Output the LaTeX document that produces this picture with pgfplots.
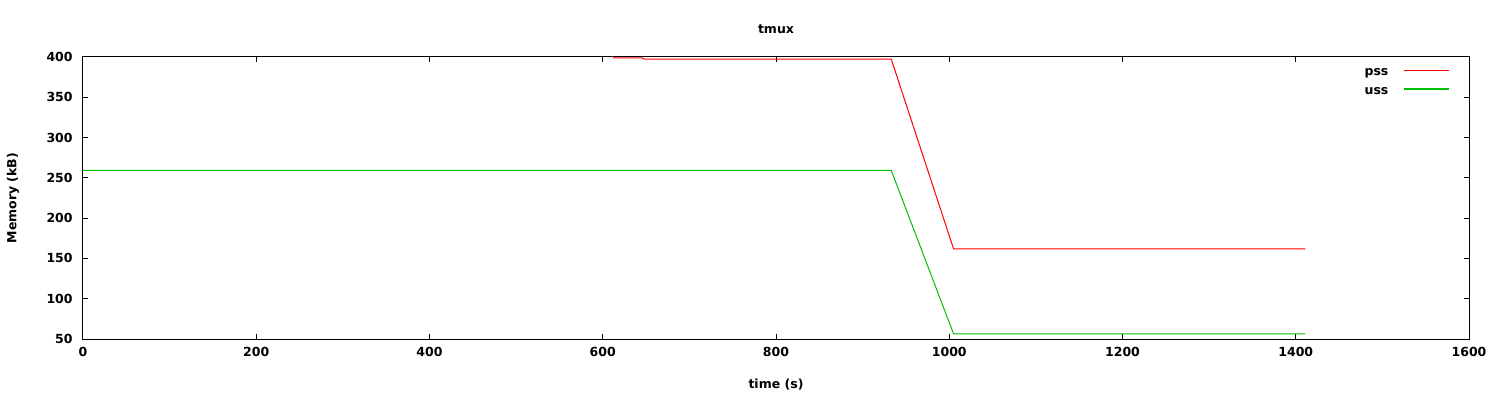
\documentclass[border=0pt]{standalone}
\usepackage{fontspec}
\setmainfont{DejaVu Sans}
\usepackage{pgfplots}
\pgfplotsset{compat=1.18}
\definecolor{gpred}{RGB}{255,0,0}
\definecolor{gpgreen}{RGB}{0,192,0}
\newcommand{\gpfont}{\fontsize{12.5bp}{15bp}\selectfont\bfseries}
\begin{document}
\gpfont
\begin{tikzpicture}
\begin{axis}[
  at={(0,0)}, anchor=south west,
  scale only axis, width=1386bp, height=282bp,
  xmin=0, xmax=1600, ymin=50, ymax=400,
  xtick={0,200,...,1600}, ytick={50,100,...,400},
  /pgf/number format/assume math mode=true,
  /pgf/number format/set thousands separator={},
  tick label style={font=\gpfont},
  major tick length=5bp,
  axis line style={line width=1bp},
  every tick/.style={black, line width=1bp},
  yticklabel style={anchor=east, xshift=-6bp},
  xticklabel style={anchor=center, yshift=-13bp},
  title={tmux},
  title style={at={(0.5,1)}, anchor=center, yshift=22bp, font=\gpfont},
  xlabel={time (s)},
  xlabel style={at={(0.5,0)}, anchor=center, yshift=-46bp, font=\gpfont},
  ylabel={Memory (kB)},
  ylabel style={at={(0,0.5)}, anchor=center, yshift=70bp, font=\gpfont},
  clip=true,
  legend plot pos=right,
  legend cell align=right,
  legend style={draw=none, fill=none, at={(1,1)}, anchor=north east, xshift=-19bp, yshift=-9.5bp,
    font=\gpfont, inner sep=0pt, row sep=5.6bp},
  legend image code/.code={\draw[#1, line width=1.4bp] (0bp,2.5bp) -- (45bp,2.5bp);},
]
\addplot[gpred, line width=1bp] coordinates {
(0,402) (611,402) (613,399) (645,399) (648,397.5) (933,397.5) (1005,161.8) (1411,161.8)
};
\addlegendentry{pss\hspace*{13bp}}
\addplot[gpgreen, line width=1bp] coordinates {
(0,259.4) (933,259.4) (1005,56.3) (1411,56.3)
};
\addlegendentry{uss\hspace*{13bp}}
\end{axis}
\path[use as bounding box] (-83bp,-61bp) rectangle (1417bp,339bp);
\end{tikzpicture}
\end{document}
